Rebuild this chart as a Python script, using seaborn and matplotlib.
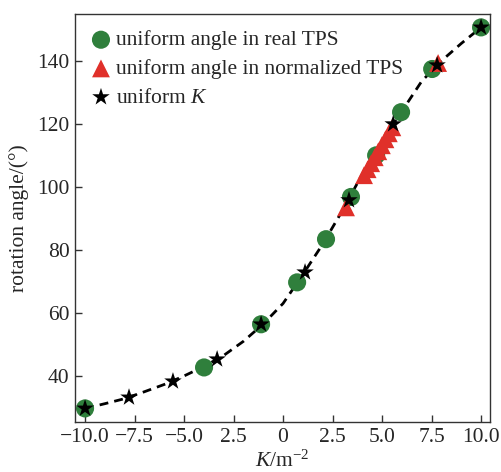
import numpy as np
import pandas as pd
import matplotlib
matplotlib.use("Agg")
import matplotlib.pyplot as plt
import seaborn as sns

# ==========================================
# DATA
# ==========================================

# dashed reference curve
curve_k = [-10, -9, -8, -7, -6, -5, -4, -3, -2, -1, 0, 1, 2, 3, 4, 5, 6, 7, 8, 9, 10]
curve_angle = [29.7, 31.2, 32.8, 35.0, 37.3, 40.0, 43.0, 46.5, 51.0, 56.5, 63.0,
               72.2, 81.8, 92.5, 104.0, 114.5, 124.0, 133.5, 140.0, 145.5, 150.6]

# uniform angle in real TPS
real_k = [-10.0, -3.99, -1.11, 0.71, 2.17, 3.43, 4.70, 5.96, 7.53, 10.0]
real_angle = [29.7, 42.7, 56.4, 69.7, 83.4, 96.8, 110.0, 123.7, 137.4, 150.6]

# uniform angle in normalized TPS
norm_k = [3.18, 4.09, 4.27, 4.45, 4.63, 4.81, 4.99, 5.17, 5.34, 5.52, 7.83]
norm_angle = [93.5, 103.7, 105.6, 107.5, 109.4, 111.3, 113.2, 115.1, 117.0, 118.9, 139.3]

# uniform K
unif_k = [-10.0, -7.78, -5.56, -3.33, -1.11, 1.11, 3.33, 5.56, 7.78, 10.0]
unif_angle = [29.7, 33.2, 38.3, 45.3, 56.4, 72.9, 95.8, 119.9, 138.6, 150.6]

x_ticks = [-10.0, -7.5, -5.0, -2.5, 0.0, 2.5, 5.0, 7.5, 10.0]
x_tick_labels = ["\u221210.0", "\u22127.5", "\u22125.0", "2.5", "0", "2.5", "5.0", "7.5", "10.0"]
y_ticks = [40, 60, 80, 100, 120, 140]

# ==========================================
# STYLE
# ==========================================

sns.set_style("ticks")
plt.rcParams["font.family"] = ["Liberation Serif", "DejaVu Serif"]
plt.rcParams["mathtext.fontset"] = "custom"
plt.rcParams["mathtext.rm"] = "Liberation Serif"
plt.rcParams["mathtext.it"] = "Liberation Serif:italic"
plt.rcParams["xtick.direction"] = "in"
plt.rcParams["ytick.direction"] = "in"

fs = 15.5

fig = plt.figure(figsize=(5.01, 4.72), dpi=100)
ax = fig.add_axes([0.150, 0.106, 0.828, 0.864])

# ==========================================
# PLOT
# ==========================================

curve_df = pd.DataFrame({"k": curve_k, "angle": curve_angle})
sns.lineplot(data=curve_df, x="k", y="angle", ax=ax, color="black",
             linestyle=(0, (3.2, 2.2)), linewidth=2.0, sort=False,
             estimator=None, zorder=1)

sns.scatterplot(x=real_k, y=real_angle, ax=ax, marker="o", s=170,
                color="#2f7f3c", edgecolor="none",
                label="uniform angle in real TPS", zorder=2)
sns.scatterplot(x=norm_k, y=norm_angle, ax=ax, marker="^", s=165,
                color="#e0302a", edgecolor="none",
                label="uniform angle in normalized TPS", zorder=3)
sns.scatterplot(x=unif_k, y=unif_angle, ax=ax, marker="*", s=175,
                color="black", edgecolor="none",
                label="uniform $K$", zorder=4)

ax.set_xlim(-10.5, 10.45)
ax.set_ylim(25.4, 154.8)
ax.set_xticks(x_ticks)
ax.set_xticklabels(x_tick_labels)
ax.set_yticks(y_ticks)
ax.tick_params(labelsize=fs, length=5, width=1, color="#333333", pad=4)
for s in ax.spines.values():
    s.set_color("#333333")
    s.set_linewidth(1.0)

ax.set_xlabel("$K$/m$^{-2}$", fontsize=fs, labelpad=3)
ax.set_ylabel("rotation angle/(\u00b0)", fontsize=fs, labelpad=6)

ax.legend(loc="upper left", frameon=False, fontsize=fs, handlelength=0.9,
          handletextpad=0.25, labelspacing=0.4, borderaxespad=0.3,
          borderpad=0.45)

plt.savefig("out.png", dpi=100)
